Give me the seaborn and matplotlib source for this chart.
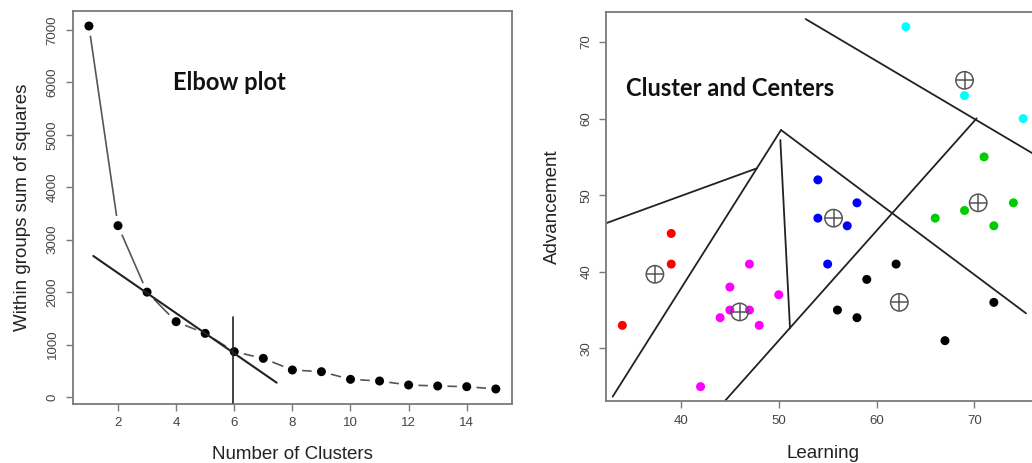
import matplotlib
matplotlib.use("Agg")
import matplotlib.pyplot as plt
import seaborn as sns
import pandas as pd

# ---------------- data ----------------
k_clusters = list(range(1, 16))
wss = [7076, 3268, 2000, 1437, 1214, 865, 737, 515, 483, 337, 305, 229, 210, 197, 153]

tangent_x = [1.15, 7.46]
tangent_y = [2690, 273]
elbow_vline_x = [5.95, 5.95]
elbow_vline_y = [1532, -108]

learning = [39, 39, 34,
            47, 45, 50, 45, 47, 44, 48, 42,
            54, 58, 54, 57, 55,
            62, 59, 56, 58, 72, 67,
            71, 66, 69, 72, 74,
            63, 69, 75]
advancement = [45, 41, 33,
               41, 38, 37, 35, 35, 34, 33, 25,
               52, 49, 47, 46, 41,
               41, 39, 35, 34, 36, 31,
               55, 47, 48, 46, 49,
               72, 63, 60]
cluster = (["2"] * 3 + ["6"] * 8 + ["4"] * 5 + ["1"] * 6 + ["3"] * 5 + ["5"] * 3)

center_x = [37.33, 46.0, 55.6, 62.33, 70.4, 69.0]
center_y = [39.67, 34.75, 47.0, 36.0, 49.0, 65.0]

# boundary segments (x0, x1), (y0, y1)
seg_x = [(52.75, 77.5), (70.24, 44.43), (50.23, 75.29), (50.23, 33.01), (31.5, 47.74), (50.16, 51.15)]
seg_y = [(73.0, 54.3), (60.03, 23.04), (58.51, 34.57), (58.51, 23.69), (45.95, 53.5), (57.2, 32.61)]

palette = {"1": "#000000", "2": "#FF0000", "3": "#00CD00", "4": "#0000FF", "5": "#00FFFF", "6": "#FF00FF"}

# ---------------- style ----------------
sns.set_style("white")
plt.rcParams['font.family'] = ['Liberation Sans', 'DejaVu Sans']
plt.rcParams.update({
    "axes.edgecolor": "#7a7a7a",
    "axes.linewidth": 1.3,
    "xtick.color": "#7a7a7a",
    "ytick.color": "#7a7a7a",
    "xtick.labelcolor": "#444444",
    "ytick.labelcolor": "#444444",
    "xtick.major.size": 5,
    "ytick.major.size": 5,
    "xtick.major.width": 1.0,
    "ytick.major.width": 1.0,
    "xtick.major.pad": 5,
    "ytick.major.pad": 5,
    "xtick.labelsize": 9.5,
    "ytick.labelsize": 9.5,
    "xtick.bottom": True,
    "ytick.left": True,
})

fig = plt.figure(figsize=(10.32, 4.63), dpi=100)
ax1 = fig.add_axes([0.0704, 0.1285, 0.4258, 0.8467])
ax2 = fig.add_axes([0.5875, 0.1339, 0.4195, 0.8395])

# ---------------- elbow plot ----------------
df_elbow = pd.DataFrame({"k": k_clusters, "wss": wss})
sns.lineplot(data=df_elbow, x="k", y="wss", ax=ax1, color="#555555", linewidth=1.2, zorder=2)
sns.scatterplot(data=df_elbow, x="k", y="wss", ax=ax1, color="white", s=200, edgecolor="none", zorder=3)
sns.scatterplot(data=df_elbow, x="k", y="wss", ax=ax1, color="black", s=42, edgecolor="none", zorder=4)
ax1.plot(tangent_x, tangent_y, color="#222222", linewidth=1.5, zorder=5)
ax1.plot(elbow_vline_x, elbow_vline_y, color="#222222", linewidth=1.2, zorder=5)

ax1.set_xlim(0.44, 15.56)
ax1.set_ylim(-124, 7353)
ax1.set_xticks([2, 4, 6, 8, 10, 12, 14])
ax1.set_yticks([0, 1000, 2000, 3000, 4000, 5000, 6000, 7000])
for lab in ax1.get_yticklabels():
    lab.set_rotation(90)
    lab.set_va("center")
ax1.set_xlabel("Number of Clusters", fontsize=13.5, color="#222222")
ax1.set_ylabel("Within groups sum of squares", fontsize=13.5, color="#222222")
ax1.xaxis.set_label_coords(0.5, -0.131)
ax1.xaxis.label.set_va("center")
ax1.yaxis.set_label_coords(-0.115, 0.5)
ax1.yaxis.label.set_va("center")
ax1.text(0.357, 0.818, "Elbow plot", transform=ax1.transAxes, ha="center", va="center",
         fontsize=17, fontweight="bold", family=["Lato", "DejaVu Sans"], color="#111111")

# ---------------- cluster plot ----------------
df_pts = pd.DataFrame({"Learning": learning, "Advancement": advancement, "cluster": cluster})
for xs, ys in zip(seg_x, seg_y):
    ax2.plot(xs, ys, color="#222222", linewidth=1.3, zorder=2)
sns.scatterplot(data=df_pts, x="Learning", y="Advancement", hue="cluster", palette=palette,
                ax=ax2, s=42, edgecolor="none", legend=False, zorder=3)
ax2.scatter(center_x, center_y, s=12.5 ** 2, facecolors="none", edgecolors="#555555", linewidths=1.1, zorder=4)
ax2.scatter(center_x, center_y, s=12.5 ** 2, marker="+", color="#555555", linewidths=1.1, zorder=4)

ax2.set_xlim(32.36, 76.64)
ax2.set_ylim(23.12, 73.88)
ax2.set_xticks([40, 50, 60, 70])
ax2.set_yticks([30, 40, 50, 60, 70])
for lab in ax2.get_yticklabels():
    lab.set_rotation(90)
    lab.set_va("center")
ax2.set_xlabel("Learning", fontsize=13.5, color="#222222")
ax2.set_ylabel("Advancement", fontsize=13.5, color="#222222")
ax2.xaxis.set_label_coords(0.4994, -0.134)
ax2.xaxis.label.set_va("center")
ax2.yaxis.set_label_coords(-0.125, 0.499)
ax2.yaxis.label.set_va("center")
ax2.text(0.287, 0.805, "Cluster and Centers", transform=ax2.transAxes, ha="center", va="center",
         fontsize=17, fontweight="bold", family=["Lato", "DejaVu Sans"], color="#111111")

fig.savefig("out.png", dpi=100)
